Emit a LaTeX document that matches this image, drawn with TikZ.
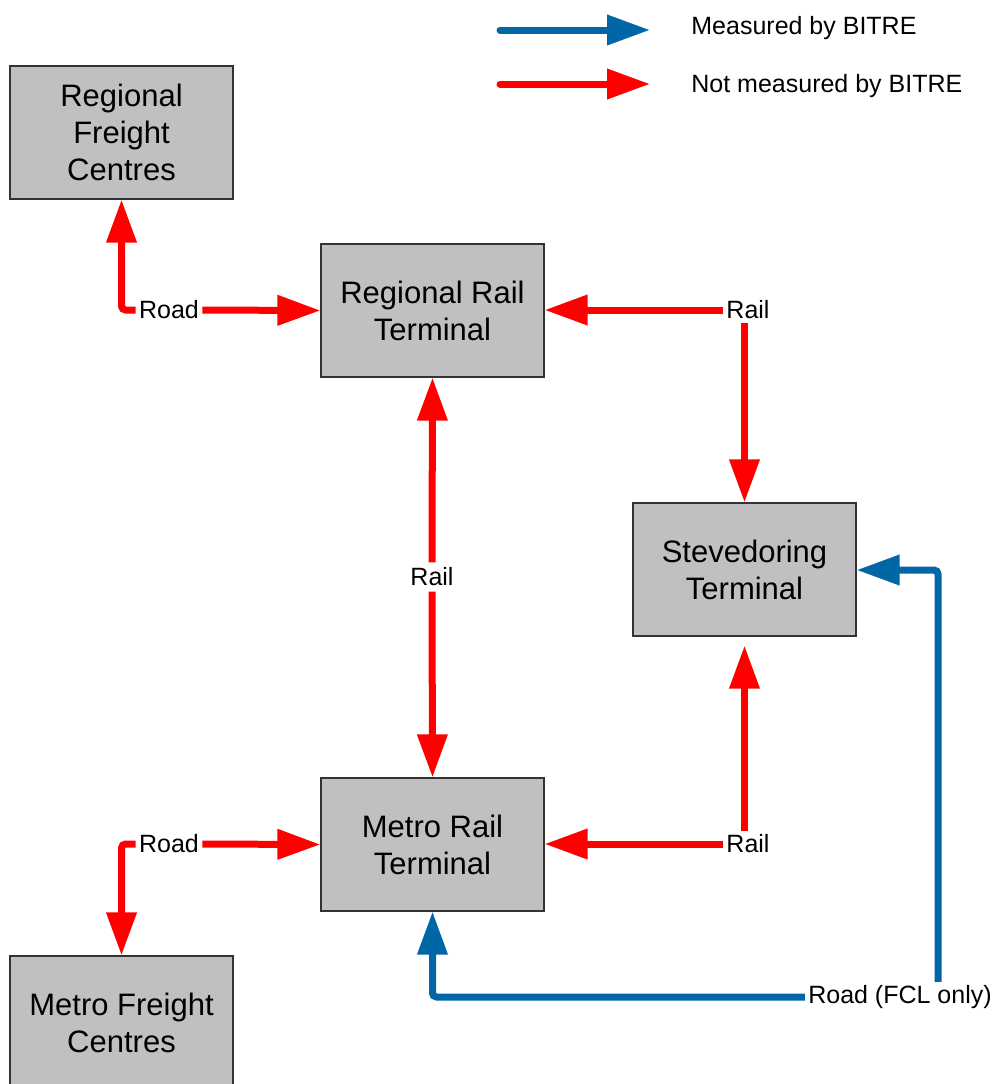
\documentclass[tikz,border=0pt]{standalone}
\usepackage{fontspec}
\setmainfont{Liberation Sans}
\usetikzlibrary{positioning, calc}
\usetikzlibrary{arrows.meta}
\definecolor{boxgray}{RGB}{192,192,194}
\definecolor{bitreblue}{RGB}{0,102,166}

\begin{document}
\begin{tikzpicture}[x=0.5pt,y=-0.5pt,line join=miter]
	\tikzstyle{t-node}=[rectangle,draw=black!80,fill=boxgray,line width=0.6pt,minimum width=111.5pt,minimum height=66.5pt,inner sep=0pt,align=center,font=\fontsize{15.5}{18.5}\selectfont]
	\tikzstyle{mode}=[inner sep=1.5pt,font=\fontsize{12.5}{15}\selectfont]
	\tikzstyle{redline}=[draw=red,line width=3.5pt,-{Triangle[length=21.5pt,width=14.5pt]},rounded corners=2pt]
	\tikzstyle{blueline}=[redline,draw=bitreblue]
	\useasboundingbox (0,0) rectangle (998,1084);
	\clip (0,0) rectangle (998,1084);

	% legend
	\coordinate (lb0) at (500,30);
	\coordinate (lb1) at (650,30);
	\coordinate (lr0) at (500,84);
	\coordinate (lr1) at (650,84);
	\draw[blueline,line cap=round] (lb0) -- (lb1);
	\draw[redline,line cap=round] (lr0) -- (lr1);
	\node[mode,anchor=base west,inner sep=0pt] (lb-label) at (691,34) {Measured by BITRE};
	\node[mode,anchor=base west,inner sep=0pt] (lr-label) at (691,92) {Not measured by BITRE};

	% terminals
	\node[t-node] (rfc) at (121.5,132.5)  {Regional\\Freight\\Centres};
	\node[t-node] (rrt) at (432.5,310.5)  {Regional Rail\\Terminal};
	\node[t-node] (stv) at (744.5,569.5)  {Stevedoring\\Terminal};
	\node[t-node] (mrt) at (432.5,844.5)  {Metro Rail\\Terminal};
	\node[t-node] (mfc) at (121.5,1022.5) {Metro Freight\\Centres};

	% mode labels
	\node[mode] (rd1) at (169,310) {Road};
	\node[mode] (rl1) at (748,310) {Rail};
	\node[mode,inner sep=2.5pt] (rl2) at (432,577) {Rail};
	\node[mode] (rd2) at (169,844) {Road};
	\node[mode] (rl3) at (748,844) {Rail};
	\node[mode] (fcl) at (900,997) {Road (FCL only)};
	\coordinate (bend) at (938,570);

	% not measured
	\draw[redline] (rd1.west) -| (rfc.south);
	\draw[redline] (rd1.east) -- (rrt.west);
	\draw[redline] (rl1.west) -- (rl1.west -| rrt.east);
	\draw[redline] (rl1.south -| stv.north) -- (stv.north);
	\draw[redline] (rl2.north) -- (rrt.south);
	\draw[redline] (rl2.south) -- (mrt.north);
	\draw[redline] (rd2.west) -| (mfc.north);
	\draw[redline] (rd2.east) -- (mrt.west);
	\draw[redline] (rl3.west) -- (rl3.west -| mrt.east);
	\draw[redline,shorten >=4.5pt] (rl3.north -| stv.south) -- (stv.south);

	% measured
	\draw[blueline] (fcl.west) -| (mrt.south);
	\draw[blueline] (fcl.north -| bend) -- (bend) -- (bend -| stv.east);
\end{tikzpicture}
\end{document}
